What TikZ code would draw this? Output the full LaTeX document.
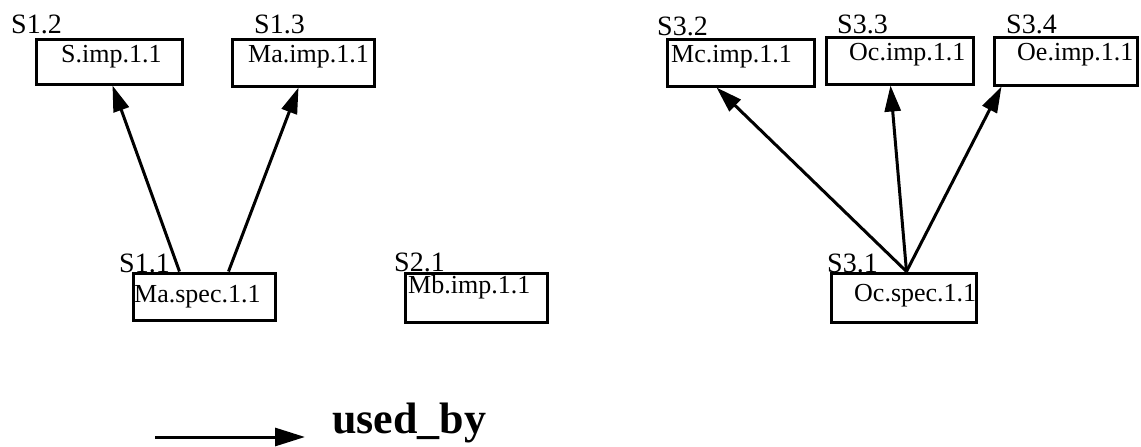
\documentclass[tikz,border=0pt]{standalone}
\usepackage{fontspec}
\setmainfont{Liberation Serif}
\usetikzlibrary{arrows.meta}
\begin{document}
\begin{tikzpicture}[x=1pt,y=-1pt,
  box/.style={draw,line width=3pt,rectangle,inner sep=0pt},
  boxtext/.style={anchor=base west,inner sep=0pt,font=\fontsize{26}{28}\selectfont},
  lab/.style={anchor=base west,inner sep=0pt,font=\fontsize{28}{30}\selectfont},
  arr/.style={line width=3pt,-{Triangle[length=26pt,width=16pt]}}]
\useasboundingbox (0,0) rectangle (1141,447);
% boxes
\node[box,minimum width=146pt,minimum height=45pt] (simp) at (109,61.5) {};
\node[box,minimum width=142pt,minimum height=47pt] (maimp) at (303,62.5) {};
\node[box,minimum width=147pt,minimum height=47pt] (mcimp) at (740.5,62.5) {};
\node[box,minimum width=147pt,minimum height=47pt] (ocimp) at (899.5,60.5) {};
\node[box,minimum width=143pt,minimum height=48pt] (oeimp) at (1065.5,61) {};
\node[box,minimum width=142pt,minimum height=47pt] (maspec) at (204,296.5) {};
\node[box,minimum width=142pt,minimum height=49pt] (mbimp) at (476,297.5) {};
\node[box,minimum width=145pt,minimum height=49pt] (ocspec) at (903.5,297.5) {};
% box texts
\node[boxtext] (t1) at (61,62) {S.imp.1.1};
\node[boxtext] (t2) at (248,62) {Ma.imp.1.1};
\node[boxtext] (t3) at (671,62) {Mc.imp.1.1};
\node[boxtext] (t4) at (849,60) {Oc.imp.1.1};
\node[boxtext] (t5) at (1017,60) {Oe.imp.1.1};
\node[boxtext] (t6) at (134,302) {Ma.spec.1.1};
\node[boxtext] (t7) at (408,293) {Mb.imp.1.1};
\node[boxtext] (t8) at (854,301) {Oc.spec.1.1};
% labels
\node[lab] (l1) at (11,33) {S1.2};
\node[lab] (l2) at (254,33) {S1.3};
\node[lab] (l3) at (657,35) {S3.2};
\node[lab] (l4) at (837,33) {S3.3};
\node[lab] (l5) at (1006,33) {S3.4};
\node[lab] (l6) at (119,272) {S1.1};
\node[lab] (l7) at (394,271) {S2.1};
\node[lab] (l8) at (827,272) {S3.1};
% arrows
\draw[arr] ([xshift=48pt]maspec.north west) -- ([xshift=78pt]simp.south west);
\draw[arr] ([xshift=97pt]maspec.north west) -- ([xshift=68pt]maimp.south west);
\draw[arr] ([xshift=77pt]ocspec.north west) -- ([xshift=51pt]mcimp.south west);
\draw[arr] ([xshift=77pt]ocspec.north west) -- ([xshift=66pt]ocimp.south west);
\draw[arr] ([xshift=77pt]ocspec.north west) -- ([xshift=9pt]oeimp.south west);
% legend
\coordinate (la) at (155,437);
\coordinate (lb) at (305,437);
\draw[line width=3pt,-{Triangle[length=30pt,width=18pt]}] (la) -- (lb);
\node[anchor=base west,inner sep=0pt,font=\bfseries\fontsize{44}{48}\selectfont] (leg) at (332,433) {used\_by};
\end{tikzpicture}
\end{document}
